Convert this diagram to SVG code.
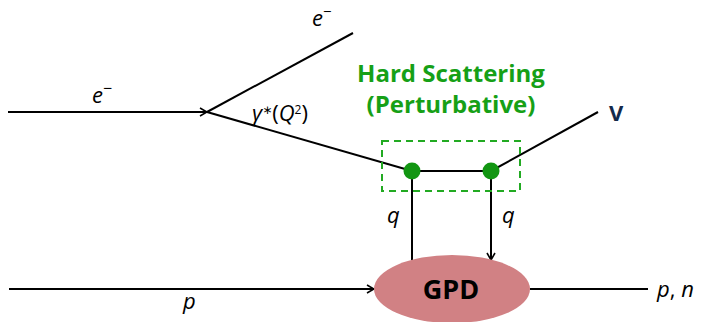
<svg xmlns="http://www.w3.org/2000/svg" width="701" height="322" viewBox="0 0 701 322">
<style>
.ln{stroke:#000;stroke-width:2;fill:none}
.m{font-family:"Open Sans","DejaVu Sans",sans-serif;font-style:italic;font-size:22px;fill:#000}
.g{font-family:"Open Sans","DejaVu Sans",sans-serif;font-weight:bold;font-size:24px;fill:#16a016;text-anchor:middle}
</style>
<defs>
<marker id="arr" viewBox="0 0 10 10" refX="9" refY="5" markerWidth="10" markerHeight="10" markerUnits="userSpaceOnUse" orient="auto">
<path d="M2,1 L9,5 L2,9" fill="none" stroke="#000" stroke-width="1.6"/>
</marker>
</defs>
<rect width="701" height="322" fill="#fff"/>
<g id="connectors">
<line class="ln" x1="8" y1="112" x2="207" y2="112" marker-end="url(#arr)"/>
<line class="ln" x1="207" y1="112" x2="353" y2="33"/>
<line class="ln" x1="207" y1="112" x2="412" y2="171"/>
<line class="ln" x1="412" y1="171" x2="491" y2="171"/>
<line class="ln" x1="491" y1="171" x2="598" y2="112"/>
<line class="ln" x1="412" y1="171" x2="412" y2="260"/>
<line class="ln" x1="491" y1="171" x2="491" y2="260" marker-end="url(#arr)"/>
<line class="ln" x1="9" y1="289" x2="374" y2="289" marker-end="url(#arr)"/>
<line class="ln" x1="530" y1="289" x2="648" y2="289"/>
</g>
<g id="hard">
<rect x="382" y="141" width="138" height="50" fill="none" stroke="#22aa22" stroke-width="2" stroke-dasharray="7,5"/>
<text class="g" x="451" y="82">Hard Scattering</text>
<text class="g" x="451" y="113">(Perturbative)</text>
<circle cx="412" cy="171" r="8.5" fill="#129612"/>
<circle cx="491" cy="171" r="8.5" fill="#129612"/>
</g>
<g id="gpd">
<ellipse cx="452" cy="289" rx="78" ry="34" fill="#d18184"/>
<text x="451" y="299" font-family="Open Sans, DejaVu Sans, sans-serif" font-weight="bold" font-size="27" text-anchor="middle" fill="#000">GPD</text>
</g>
<g id="labels">
<text class="m" x="92" y="103">e<tspan font-style="normal" font-size="16" dy="-9">−</tspan></text>
<text class="m" x="312" y="26">e<tspan font-style="normal" font-size="15" dy="-9">−</tspan></text>
<text class="m" x="252" y="121" font-size="18">γ<tspan font-style="normal" font-size="12" dy="-7">∗</tspan><tspan font-style="normal" dy="7">(</tspan>Q<tspan font-style="normal" font-size="12" dy="-7">2</tspan><tspan font-style="normal" dy="7">)</tspan></text>
<text class="m" x="387" y="223">q</text>
<text class="m" x="502" y="223">q</text>
<text class="m" x="183" y="309">p</text>
<text class="m" x="657" y="297">p<tspan font-style="normal">,</tspan> n</text>
<text x="609" y="121" font-family="Open Sans, DejaVu Sans, sans-serif" font-weight="bold" font-size="22" fill="#142a4a">V</text>
</g>
</svg>
